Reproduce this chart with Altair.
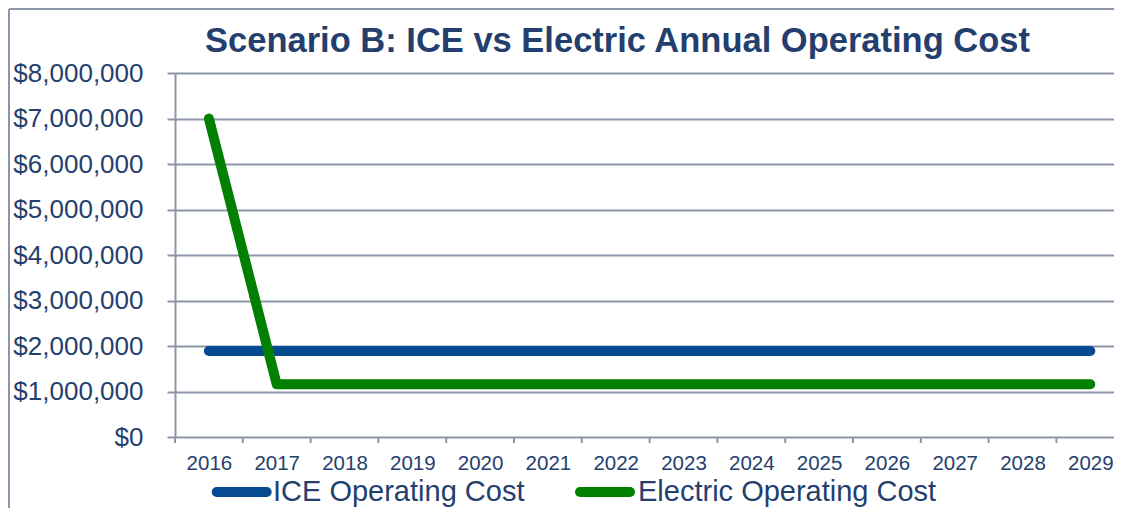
import altair as alt
import pandas as pd

# ---- data ----
years = [2016, 2017, 2018, 2019, 2020, 2021, 2022, 2023, 2024, 2025, 2026, 2027, 2028, 2029]
ice_cost = [1890000, 1890000, 1890000, 1890000, 1890000, 1890000, 1890000,
            1890000, 1890000, 1890000, 1890000, 1890000, 1890000, 1890000]
electric_cost = [7000000, 1160000, 1160000, 1160000, 1160000, 1160000, 1160000,
                 1160000, 1160000, 1160000, 1160000, 1160000, 1160000, 1160000]
series_names = ["ICE Operating Cost", "Electric Operating Cost"]
series_colors = ["#064A91", "#018001"]
y_ticks = [0, 1000000, 2000000, 3000000, 4000000, 5000000, 6000000, 7000000, 8000000]
title_text = "Scenario B: ICE vs Electric Annual Operating Cost"

# ---- layout ----
W, H = 939, 364
PAD = {"left": 167, "top": 65, "right": 0, "bottom": 71}
STEP = 67.8
x_min = years[0] - 0.5
x_max = x_min + W / STEP
NAVY = "#243F6E"
GRID = "#8D96A9"
FONT = "Liberation Sans"

rows = []
for name, vals in zip(series_names, [ice_cost, electric_cost]):
    for yr, v in zip(years, vals):
        rows.append({"year": yr, "cost": v, "series": name})
df = pd.DataFrame(rows)
bounds = pd.DataFrame({"b": [yr - 0.5 for yr in years]})
one = pd.DataFrame({"k": [0]})

x_scale = alt.Scale(domain=[x_min, x_max], nice=False, zero=False)
y_scale = alt.Scale(domain=[0, 8000000], nice=False)
color_scale = alt.Scale(domain=series_names, range=series_colors)

lines = alt.Chart(df).mark_line(strokeWidth=10, strokeCap="round", strokeJoin="round").encode(
    x=alt.X("year:Q", scale=x_scale,
            axis=alt.Axis(values=years, format="d", title=None, domain=False, ticks=False, tickSize=0,
                          grid=False, labelFontSize=20.5, labelColor=NAVY, labelFont=FONT,
                          labelPadding=16, labelFlush=False, labelOverlap=False)),
    y=alt.Y("cost:Q", scale=y_scale,
            axis=alt.Axis(values=y_ticks, format="$,.0f", title=None, domainColor=GRID, domainWidth=2,
                          tickColor=GRID, tickWidth=2, tickSize=8, gridColor=GRID, gridWidth=2,
                          labelFontSize=26, labelColor=NAVY, labelFont=FONT, labelPadding=24)),
    color=alt.Color("series:N", scale=color_scale, legend=None),
    order=alt.Order("year:Q"),
)

xticks = alt.Chart(bounds).mark_rule(color=GRID, strokeWidth=2).encode(
    x=alt.X("b:Q", scale=x_scale),
    y=alt.value(H),
    y2=alt.value(H + 6),
)

title = alt.Chart(one).mark_text(text=title_text, font=FONT, fontSize=34.5, fontWeight="bold",
                                 color=NAVY, align="center", baseline="alphabetic").encode(
    x=alt.value(442.5), y=alt.value(-21))

leg_layers = []
leg_sym_x = [41.7, 405]
leg_txt_x = [98, 463]
for name, col, sx, tx in zip(series_names, series_colors, leg_sym_x, leg_txt_x):
    leg_layers.append(alt.Chart(one).mark_rule(color=col, strokeWidth=10, strokeCap="round").encode(
        x=alt.value(sx), x2=alt.value(sx + 50), y=alt.value(419)))
    leg_layers.append(alt.Chart(one).mark_text(text=name, font=FONT, fontSize=29, color=NAVY,
                                               align="left", baseline="alphabetic").encode(
        x=alt.value(tx), y=alt.value(428)))

frame_top = alt.Chart(one).mark_rule(color=GRID, strokeWidth=2).encode(
    x=alt.value(-166), x2=alt.value(W), y=alt.value(-64))
frame_left = alt.Chart(one).mark_rule(color=GRID, strokeWidth=2).encode(
    x=alt.value(-166), y=alt.value(-64), y2=alt.value(H + PAD["bottom"]))

chart = alt.layer(frame_top, frame_left, xticks, lines, title, *leg_layers).properties(
    width=W, height=H, padding=PAD,
    autosize=alt.AutoSizeParams(type="none"),
    background="white",
).configure_view(stroke=None)

chart.save("out.html", embed_options={"renderer": "svg", "actions": False})
